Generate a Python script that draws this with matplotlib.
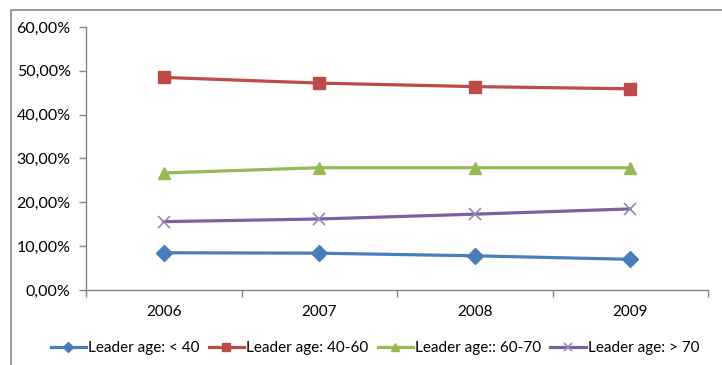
import matplotlib
matplotlib.use("Agg")
import matplotlib.pyplot as plt
from matplotlib.patches import Rectangle
from matplotlib.ticker import FuncFormatter, MultipleLocator

plt.rcParams['font.family'] = ['Lato', 'DejaVu Sans']

years = ["2006", "2007", "2008", "2009"]
under_40 = [8.5, 8.4, 7.8, 7.0]
age_40_60 = [48.5, 47.2, 46.4, 45.9]
age_60_70 = [26.7, 27.9, 27.9, 27.9]
over_70 = [15.6, 16.2, 17.3, 18.5]

series = [
    ("Leader age: < 40", under_40, "#4A7EBB", "D", 8),
    ("Leader age: 40-60", age_40_60, "#BE4B48", "s", 9),
    ("Leader age:: 60-70", age_60_70, "#98B954", "^", 9),
    ("Leader age: > 70", over_70, "#7D60A0", "x", 9),
]

W, H = 722, 365
fig = plt.figure(figsize=(W / 100, H / 100), dpi=100)
ax = fig.add_axes([86 / W, 1 - 290 / H, (708 - 86) / W, (290 - 27) / H])

x = list(range(len(years)))
for label, vals, color, marker, ms in series:
    kw = dict(markeredgecolor=color, markerfacecolor=color)
    if marker == "x":
        kw = dict(markeredgecolor="#9A86B8", markeredgewidth=1.2)
    ax.plot(x, vals, color=color, lw=2.3, marker=marker, markersize=ms,
            label=label, **kw)

ax.set_xlim(-0.5, len(years) - 0.5)
ax.set_ylim(0, 60)
ax.yaxis.set_major_locator(MultipleLocator(10))
ax.yaxis.set_major_formatter(FuncFormatter(lambda v, p: f"{v:.2f}%".replace(".", ",")))
ax.set_xticks(x)
ax.set_xticklabels(years)
ax.set_xticks([i - 0.5 for i in range(len(years) + 1)], minor=True)
ax.tick_params(axis="x", which="major", length=0, pad=11, labelsize=11, colors="black")
ax.tick_params(axis="x", which="minor", length=5, color="#868686", width=1)
ax.tick_params(axis="y", length=5, color="#868686", width=1, pad=6, labelsize=11.5)

for side in ("top", "right"):
    ax.spines[side].set_visible(False)
for side in ("left", "bottom"):
    ax.spines[side].set_color("#868686")
    ax.spines[side].set_linewidth(1)

# outer chart frame
fig.patches.append(Rectangle((11 / W, -0.1), 1.2, 1 - 10 / H + 0.1,
                             transform=fig.transFigure, fill=False,
                             edgecolor="#868686", lw=1.2))

fig.legend(loc="center", bbox_to_anchor=(375 / W, 1 - 348 / H), ncol=4,
           frameon=False, fontsize=11, handlelength=2.3, handletextpad=0.15,
           columnspacing=0.6, borderaxespad=0, markerscale=0.7)

fig.savefig("out.png", dpi=100)
